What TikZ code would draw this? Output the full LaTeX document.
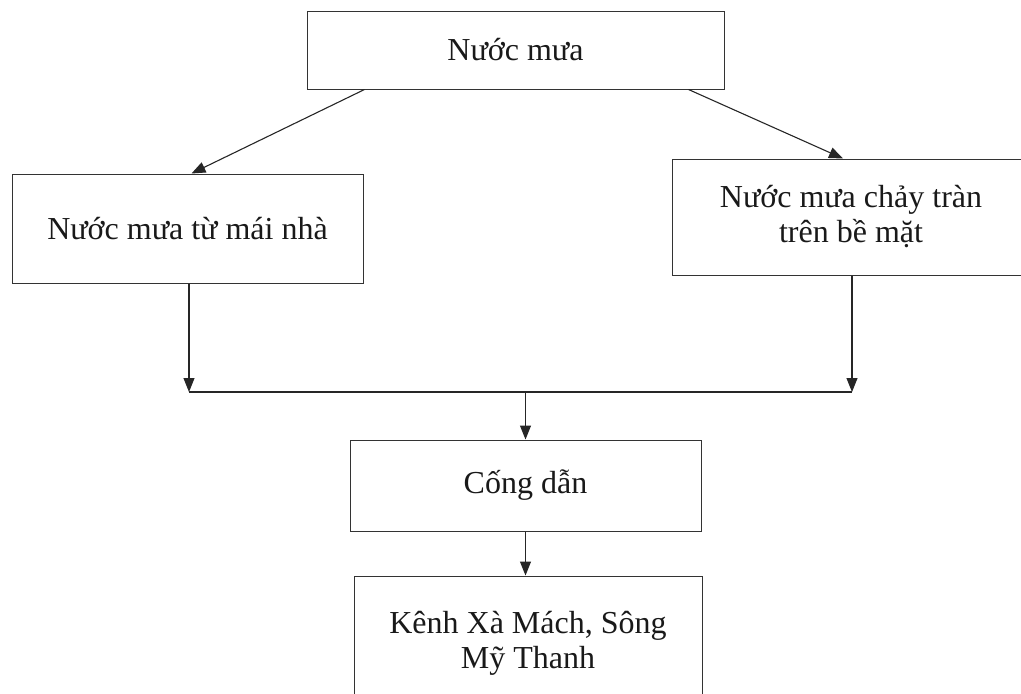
\documentclass[tikz,border=0pt]{standalone}
\usepackage{fontspec}
\setmainfont{Liberation Serif}
\usetikzlibrary{arrows.meta,calc}
\begin{document}
\begin{tikzpicture}[x=1pt,y=-1pt,
  box/.style={draw=black!80, line width=1pt, rectangle, inner sep=0pt, align=center,
    font=\fontsize{32}{35}\selectfont, text=black!90},
  conn/.style={draw=black!85, line width=1.1pt},
  arr/.style={conn, -{Triangle[length=14pt,width=11pt]}}]
\useasboundingbox (0,0) rectangle (1021,694);
\begin{scope}
\clip (0,0) rectangle (1021,694);
\node[box, minimum width=417pt, minimum height=78pt] (top) at (515.5,50) {Nước mưa};
\node[box, minimum width=351pt, minimum height=109pt] (left) at (187.5,228.5) {Nước mưa từ mái nhà};
\node[box, minimum width=358pt, minimum height=116pt] (right) at (851,217) {Nước mưa chảy tràn\\trên bề mặt};
\node[box, minimum width=351pt, minimum height=91pt] (cong) at (525.5,485.5) {Cống dẫn};
\node[box, minimum width=348pt, minimum height=134pt] (kenh) at (528,643) {Kênh Xà Mách, Sông\\Mỹ Thanh};
\coordinate (busL) at (189,392);
\coordinate (busR) at (852,392);
\draw[arr] ($(top.south west)+(58,0)$) -- ($(left.north)+(4,0)$);
\draw[arr] ($(top.south east)+(-36,0)$) -- ($(right.north)+(-8,0)$);
\draw[arr] (left.south -| busL) -- (busL);
\draw[arr] (right.south -| busR) -- (busR);
\draw[conn] (busL) -- (busR);
\draw[arr] (cong.north |- busL) -- (cong.north);
\draw[arr] (cong.south) -- (cong.south |- kenh.north);
\end{scope}
\end{tikzpicture}
\end{document}
